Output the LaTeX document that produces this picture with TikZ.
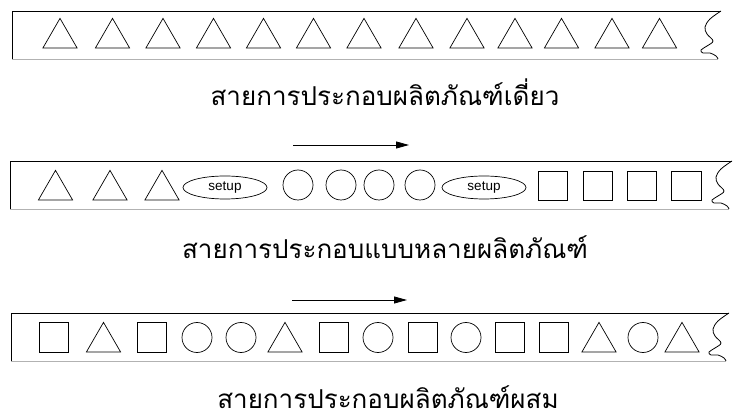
\documentclass[tikz,border=0pt]{standalone}
\usepackage{fontspec}
\newfontfamily\thaifont[Script=Thai]{Loma}
\newfontfamily\arialfont{Liberation Sans}
\usetikzlibrary{shapes.geometric,arrows.meta}
\tikzset{
  shp/.style={draw=black,line width=0.7pt,inner sep=0pt,outer sep=0pt},
  tri/.style={shp,regular polygon,regular polygon sides=3,minimum size=39.5pt,anchor=south},
  sq/.style={shp,rectangle,minimum size=29.5pt},
  circ/.style={shp,circle,minimum size=30pt},
  setupbox/.style={shp,ellipse,minimum width=84pt,minimum height=23pt,font=\arialfont\fontsize{13.5}{15}\selectfont},
  boxline/.style={line width=0.8pt,draw=black},
  lowline/.style={line width=0.8pt,draw=gray!60},
  lbl/.style={font=\thaifont\fontsize{26}{28}\selectfont,inner sep=0pt,text height=20pt,text depth=0pt,anchor=base},
  flow/.style={line width=0.8pt,-{Triangle[length=13pt,width=7pt]}},
}
\newcommand{\squig}[1]{%
  \begin{scope}[shift={(#1)}]
  \draw[boxline,line join=round] plot[smooth,tension=0.6] coordinates
    {(0,0) (-11,8) (-16,16) (-14,23) (-8,30) (-14,35) (-20,39) (-18,42) (-11,42) (-5,45) (-3,48)};
  \end{scope}}
\begin{document}
\begin{tikzpicture}[x=1pt,y=-1pt]
\useasboundingbox (0,0) rectangle (733,419);
% ---------- row 1
\coordinate (r1a) at (721,11);
\draw[boxline] (r1a) -- (12,11) -- (12,59);
\draw[lowline] (12,59) -- (718,59);
\squig{r1a}
\foreach \x [count=\i] in {60,112.5,163,213.5,263.5,313.5,364,416,467,515,561.5,612,659.5}
  \node[tri] (a\i) at (\x,48) {};
\node[lbl] (l1) at (385,106) {สายการประกอบผลิตภัณฑ์เดี่ยว};
% ---------- row 2
\coordinate (f1s) at (293,145);
\coordinate (f1e) at (409,145);
\draw[flow] (f1s) -- (f1e);
\coordinate (r2a) at (732,161);
\draw[boxline] (r2a) -- (10,161) -- (10,209);
\draw[lowline] (10,209) -- (729,209);
\squig{r2a}
\foreach \x [count=\i] in {55.5,110,162}
  \node[tri] (b\i) at (\x,200) {};
\node[setupbox] (s1) at (225,187.5) {setup};
\foreach \x [count=\i] in {298,341,379,420}
  \node[circ] (c\i) at (\x,185) {};
\node[setupbox] (s2) at (484,187.5) {setup};
\foreach \x [count=\i] in {553,598,642,686.5}
  \node[sq] (d\i) at (\x,186) {};
\node[lbl] (l2) at (385,259) {สายการประกอบแบบหลายผลิตภัณฑ์};
% ---------- row 3
\coordinate (f2s) at (292,300);
\coordinate (f2e) at (407,300);
\draw[flow] (f2s) -- (f2e);
\coordinate (r3a) at (729,313);
\draw[boxline] (r3a) -- (11,313) -- (11,361);
\draw[lowline] (11,361) -- (726,361);
\squig{r3a}
\node[sq] (e1) at (54,337.5) {};
\node[tri] (e2) at (103.5,352) {};
\node[sq] (e3) at (152,337.5) {};
\node[circ] (e4) at (197,337.5) {};
\node[circ] (e5) at (241,337.5) {};
\node[tri] (e6) at (285,352) {};
\node[sq] (e7) at (334,337.5) {};
\node[circ] (e8) at (378,337.5) {};
\node[sq] (e9) at (423,337.5) {};
\node[circ] (e10) at (466,337.5) {};
\node[sq] (e11) at (510,337.5) {};
\node[sq] (e12) at (554,337.5) {};
\node[tri] (e13) at (599,352) {};
\node[circ] (e14) at (643,337.5) {};
\node[tri] (e15) at (682,352) {};
\node[lbl] (l3) at (388,408) {สายการประกอบผลิตภัณฑ์ผสม};
\end{tikzpicture}
\end{document}
